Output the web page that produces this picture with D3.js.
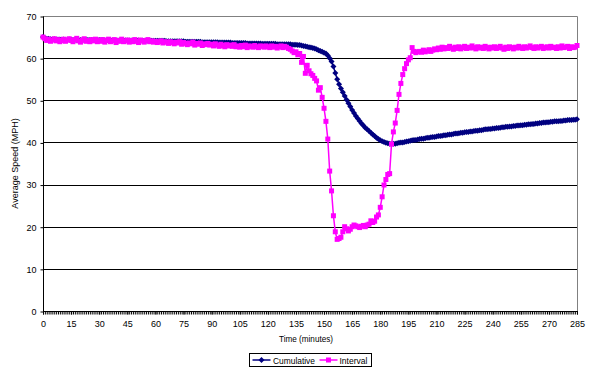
<!DOCTYPE html>
<html>
<head>
<meta charset="utf-8">
<script src="https://cdn.jsdelivr.net/npm/d3@7"></script>
<style>
  body { margin: 0; background: #fff; }
  text { font-family: "Liberation Sans", Arial, sans-serif; font-size: 9px; fill: #000; }
</style>
</head>
<body>
<svg></svg>
<script>
// series values, one per minute (0..285)
var intervalSpeed = [
  65.0, 64.6, 64.2, 64.5, 64.0, 64.3, 64.6, 64.1, 64.4, 63.9, 64.2, 64.5, 64.0, 64.3, 64.6,
  64.2, 63.9, 64.4, 64.7, 64.1, 63.8, 64.3, 64.6, 64.0, 64.2, 63.9, 64.4, 64.1, 64.5, 63.9,
  64.3, 64.0, 64.4, 63.8, 64.2, 64.5, 63.9, 64.1, 64.4, 63.7, 64.2, 64.0, 64.5, 63.9, 64.1,
  64.3, 63.8, 64.2, 63.9, 64.4, 64.0, 63.7, 64.3, 64.1, 63.8, 64.2, 64.4, 63.9, 64.1, 63.8,
  64.0, 63.7, 63.9, 64.1, 63.6, 63.9, 63.8, 63.5, 63.9, 63.7, 63.4, 63.8, 63.6, 63.9, 63.3,
  63.7, 63.5, 63.2, 63.6, 63.4, 63.8, 63.1, 63.5, 63.3, 63.6, 63.0, 63.4, 63.2, 63.5, 63.1,
  63.3, 62.9, 63.4, 63.1, 62.8, 63.3, 63.0, 62.7, 63.2, 62.9, 63.1, 62.8, 63.2, 62.7, 62.9,
  62.6, 63.0, 62.7, 63.1, 62.5, 62.9, 62.8, 62.6, 63.0, 62.7, 62.5, 62.9, 62.8, 62.6, 62.9,
  62.7, 62.5, 62.9, 62.6, 62.8, 62.4, 62.7, 62.9, 62.5, 62.8, 62.6, 62.3, 62.1, 61.7, 61.3,
  61.5, 60.8, 61.1, 59.0, 60.4, 56.4, 58.3, 57.0, 56.3, 55.9, 55.2, 54.6, 52.4, 53.0, 50.7,
  48.1, 45.0, 40.8, 33.2, 28.5, 22.6, 18.8, 17.0, 17.2, 17.5, 18.8, 20.0, 19.5, 19.0, 19.4,
  20.0, 20.4, 20.2, 20.0, 19.8, 20.1, 20.3, 20.0, 20.4, 20.6, 21.4, 21.0, 21.3, 22.3, 22.8,
  24.6, 27.1, 29.9, 31.2, 32.4, 32.6, 39.6, 42.5, 44.6, 47.6, 51.4, 54.0, 56.1, 57.5, 58.7,
  59.6, 60.1, 62.5, 61.6, 61.3, 61.5, 61.6, 61.4, 61.9, 61.5, 61.7, 62.0, 61.6, 61.9, 62.2,
  62.0, 62.4, 62.1, 62.6, 62.2, 62.5, 62.3, 62.8, 62.4, 62.1, 62.6, 62.3, 62.7, 62.2, 62.5,
  62.8, 62.3, 62.6, 62.4, 62.9, 62.5, 62.2, 62.7, 62.4, 62.6, 62.3, 62.8, 62.5, 62.2, 62.6,
  62.4, 62.7, 62.3, 62.5, 62.8, 62.4, 62.1, 62.6, 62.3, 62.7, 62.5, 62.2, 62.6, 62.4, 62.8,
  62.5, 62.3, 62.7, 62.4, 62.6, 62.9, 62.5, 62.3, 62.7, 62.4, 62.6, 62.8, 62.3, 62.5, 62.7,
  62.4, 62.8, 62.5, 62.6, 62.3, 62.7, 62.4, 62.9, 62.5, 62.6, 62.8, 62.3, 62.7, 62.5, 62.6,
  63.0
];

var cumulativeSpeed = [
  65.0, 64.8, 64.6, 64.6, 64.5, 64.4, 64.5, 64.4, 64.4, 64.4, 64.3, 64.4, 64.3, 64.3, 64.4,
  64.3, 64.3, 64.3, 64.3, 64.3, 64.3, 64.3, 64.3, 64.3, 64.3, 64.3, 64.3, 64.3, 64.3, 64.3,
  64.3, 64.3, 64.3, 64.2, 64.2, 64.2, 64.2, 64.2, 64.2, 64.2, 64.2, 64.2, 64.2, 64.2, 64.2,
  64.2, 64.2, 64.2, 64.2, 64.2, 64.2, 64.2, 64.1, 64.1, 64.1, 64.1, 64.1, 64.1, 64.1, 64.1,
  64.1, 64.1, 64.1, 64.1, 64.1, 64.1, 64.0, 64.0, 64.0, 64.0, 64.0, 64.0, 64.0, 64.0, 64.0,
  64.0, 63.9, 63.9, 63.9, 63.9, 63.9, 63.9, 63.9, 63.9, 63.9, 63.8, 63.8, 63.8, 63.8, 63.8,
  63.8, 63.8, 63.8, 63.8, 63.7, 63.7, 63.7, 63.7, 63.7, 63.7, 63.7, 63.6, 63.6, 63.6, 63.6,
  63.6, 63.6, 63.6, 63.6, 63.5, 63.5, 63.5, 63.5, 63.5, 63.5, 63.5, 63.5, 63.4, 63.4, 63.4,
  63.4, 63.4, 63.4, 63.4, 63.4, 63.3, 63.3, 63.3, 63.3, 63.3, 63.3, 63.3, 63.3, 63.2, 63.2,
  63.2, 63.1, 63.1, 63.0, 62.9, 62.8, 62.7, 62.6, 62.5, 62.4, 62.3, 62.1, 61.9, 61.7, 61.5,
  61.3, 61.1, 60.6, 60.0, 59.2, 58.0, 56.5, 55.0, 53.8, 52.8, 51.9, 51.0, 50.1, 49.3, 48.5,
  47.7, 47.0, 46.3, 45.7, 45.1, 44.5, 44.0, 43.5, 43.1, 42.7, 42.3, 41.9, 41.5, 41.1, 40.8,
  40.5, 40.3, 40.1, 39.9, 39.8, 39.7, 39.6, 39.7, 39.7, 39.8, 39.9, 40.0, 40.0, 40.1, 40.2,
  40.3, 40.4, 40.5, 40.6, 40.6, 40.7, 40.8, 40.9, 40.9, 41.0, 41.1, 41.1, 41.2, 41.3, 41.3,
  41.4, 41.5, 41.5, 41.6, 41.7, 41.7, 41.8, 41.9, 41.9, 42.0, 42.1, 42.1, 42.2, 42.3, 42.3,
  42.4, 42.5, 42.5, 42.6, 42.6, 42.7, 42.8, 42.8, 42.9, 42.9, 43.0, 43.1, 43.1, 43.2, 43.2,
  43.3, 43.3, 43.4, 43.4, 43.5, 43.6, 43.6, 43.7, 43.7, 43.8, 43.8, 43.9, 43.9, 44.0, 44.0,
  44.1, 44.1, 44.2, 44.2, 44.3, 44.3, 44.4, 44.4, 44.5, 44.5, 44.6, 44.6, 44.7, 44.7, 44.8,
  44.8, 44.9, 44.9, 45.0, 45.0, 45.0, 45.1, 45.1, 45.2, 45.2, 45.3, 45.3, 45.3, 45.4, 45.4,
  45.5
];

// categories (minutes) and tick labels
var minutes = d3.range(0, 286);
var xTickLabels = [0, 15, 30, 45, 60, 75, 90, 105, 120, 135, 150, 165, 180, 195, 210, 225, 240, 255, 270, 285];
var yTickLabels = [0, 10, 20, 30, 40, 50, 60, 70];

var svgWidth = 597;
var svgHeight = 373;
var svg = d3.select('svg')
    .attr('width', svgWidth)
    .attr('height', svgHeight);

var plotLeft = 43, plotRight = 577, plotTop = 16, plotBottom = 311;

var x = d3.scaleLinear().domain([0, 285]).range([plotLeft, plotRight]);
var y = d3.scaleLinear().domain([0, 70]).range([plotBottom, plotTop]);

// gridlines
svg.append('g')
    .selectAll('line')
    .data(yTickLabels.filter(d => d > 0 && d < 70))
    .enter()
    .append('line')
    .attr('x1', plotLeft).attr('x2', plotRight)
    .attr('y1', d => Math.round(y(d)) + 0.5).attr('y2', d => Math.round(y(d)) + 0.5)
    .style('stroke', '#000');

// plot area frame (top and right are grey)
svg.append('path')
    .attr('d', 'M' + plotLeft + ',' + (plotTop + 0.5) + 'H' + (plotRight + 0.5) + 'V' + plotBottom)
    .style('fill', 'none')
    .style('stroke', '#808080');

// y axis
var yAxis = d3.axisLeft(y)
    .tickValues(yTickLabels)
    .tickSize(3)
    .tickPadding(4)
    .tickFormat(d3.format('d'));
var gy = svg.append('g')
    .attr('transform', 'translate(' + (plotLeft + 0.5) + ',0.5)')
    .call(yAxis);
gy.select('.domain').attr('d', 'M0,' + (plotTop) + 'V' + (plotBottom)).style('stroke', '#000');
gy.selectAll('text').style('font-size', '9px').style('font-family', '"Liberation Sans", Arial, sans-serif');

// x axis: one tick per minute, labels every 15
var xAxisMinor = d3.axisBottom(x)
    .tickValues(minutes)
    .tickSize(3)
    .tickFormat('');
var gxm = svg.append('g')
    .attr('transform', 'translate(0,' + (plotBottom + 0.5) + ')')
    .call(xAxisMinor);
gxm.select('.domain').remove();
gxm.selectAll('line').style('stroke', '#000');

var xAxis = d3.axisBottom(x)
    .tickValues(xTickLabels)
    .tickSize(3)
    .tickPadding(6)
    .tickFormat(d3.format('d'));
var gx = svg.append('g')
    .attr('transform', 'translate(0,' + (plotBottom + 0.5) + ')')
    .call(xAxis);
gx.select('.domain').attr('d', 'M' + plotLeft + ',0H' + (plotRight + 1)).style('stroke', '#000');
gx.selectAll('text').style('font-size', '9px').style('font-family', '"Liberation Sans", Arial, sans-serif');

// axis titles
svg.append('text')
    .attr('x', 279)
    .attr('y', 342)
    .attr('textLength', 54)
    .attr('lengthAdjust', 'spacingAndGlyphs')
    .text('Time (minutes)');

svg.append('text')
    .attr('transform', 'translate(18,' + ((plotTop + plotBottom) / 2) + ') rotate(-90)')
    .attr('text-anchor', 'middle')
    .text('Average Speed (MPH)');

// series
var diamond = 'M0,-3L3,0L0,3L-3,0Z';

var speedLine = d3.line()
    .x((d, i) => x(minutes[i]))
    .y(d => y(d));

var cumGroup = svg.append('g');
cumGroup.append('path')
    .datum(cumulativeSpeed)
    .attr('d', speedLine)
    .style('fill', 'none')
    .style('stroke', '#000080')
    .style('stroke-width', 1.5);
cumGroup.selectAll('.cum')
    .data(cumulativeSpeed)
    .enter()
    .append('path')
    .attr('class', 'cum')
    .attr('transform', (d, i) => 'translate(' + x(minutes[i]) + ',' + y(d) + ')')
    .attr('d', diamond)
    .style('fill', '#000080');

var intGroup = svg.append('g');
intGroup.append('path')
    .datum(intervalSpeed)
    .attr('d', speedLine)
    .style('fill', 'none')
    .style('stroke', '#FF00FF')
    .style('stroke-width', 1.5);
intGroup.selectAll('.int')
    .data(intervalSpeed)
    .enter()
    .append('rect')
    .attr('class', 'int')
    .attr('x', (d, i) => x(minutes[i]) - 2.5)
    .attr('y', d => y(d) - 2.5)
    .attr('width', 5)
    .attr('height', 5)
    .style('fill', '#FF00FF');

// legend
var legend = svg.append('g').attr('transform', 'translate(249.5,353.5)');
legend.append('rect')
    .attr('width', 122)
    .attr('height', 13)
    .style('fill', '#fff')
    .style('stroke', '#000');

legend.append('line')
    .attr('x1', 3).attr('x2', 21).attr('y1', 6.5).attr('y2', 6.5)
    .style('stroke', '#000080').style('stroke-width', 1.5);
legend.append('path')
    .attr('transform', 'translate(12,6.5)')
    .attr('d', diamond)
    .style('fill', '#000080');
legend.append('text')
    .attr('x', 23.5).attr('y', 10)
    .attr('textLength', 42)
    .attr('lengthAdjust', 'spacingAndGlyphs')
    .text('Cumulative');

legend.append('line')
    .attr('x1', 70).attr('x2', 88).attr('y1', 6.5).attr('y2', 6.5)
    .style('stroke', '#FF00FF').style('stroke-width', 1.5);
legend.append('rect')
    .attr('x', 76.5).attr('y', 4).attr('width', 5).attr('height', 5)
    .style('fill', '#FF00FF');
legend.append('text')
    .attr('x', 90).attr('y', 10)
    .attr('textLength', 28)
    .attr('lengthAdjust', 'spacingAndGlyphs')
    .text('Interval');
</script>
</body>
</html>
